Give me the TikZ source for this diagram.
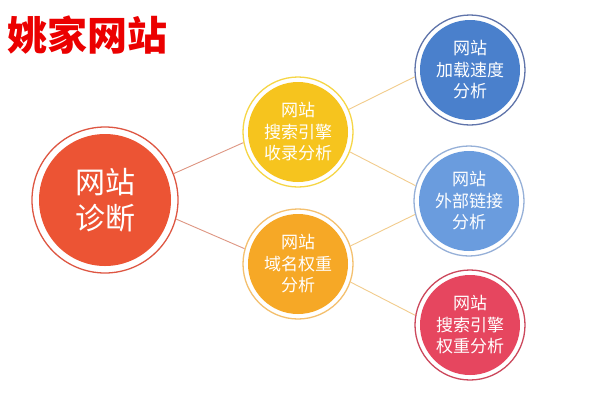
\documentclass[tikz,border=0pt]{standalone}
\usepackage{fontspec}
\newfontfamily\cjk{Noto Sans CJK SC}
\definecolor{bigfill}{RGB}{236,84,52}
\definecolor{bigline}{RGB}{222,86,66}
\definecolor{yelfill}{RGB}{246,196,30}
\definecolor{yelline}{RGB}{246,214,70}
\definecolor{orafill}{RGB}{246,168,38}
\definecolor{oraline}{RGB}{244,192,110}
\definecolor{blufill}{RGB}{74,128,204}
\definecolor{bluline}{RGB}{96,116,170}
\definecolor{lbfill}{RGB}{106,156,222}
\definecolor{lbline}{RGB}{150,176,216}
\definecolor{pkfill}{RGB}{230,70,95}
\definecolor{pkline}{RGB}{204,72,92}
\definecolor{linkA}{RGB}{222,150,130}
\definecolor{linkB}{RGB}{242,204,140}
\definecolor{titlered}{RGB}{235,0,0}
\tikzset{
  ball/.style n args={4}{circle, draw=#2, line width=1.3pt, fill=white,
    minimum size=#3, inner sep=0pt, text=white, align=center,
    path picture={\fill[#1] (path picture bounding box.center) circle (#4);}},
  smalltxt/.style={font=\cjk\fontsize{17}{21.5}\selectfont},
  bigtxt/.style={font=\cjk\fontsize{30}{36}\selectfont},
  linkl/.style={draw=linkA, line width=0.9pt},
  linkr/.style={draw=linkB, line width=0.9pt}
}
\begin{document}
\begin{tikzpicture}[x=1pt,y=-1pt]
\useasboundingbox (0,0) rectangle (600,400);
\fill[white] (0,0) rectangle (600,400);
\node[font=\cjk\bfseries\fontsize{40}{42}\selectfont, text=titlered, inner sep=0pt] (title) at (88,35) {姚家网站};
\node[ball={bigfill}{bigline}{146pt}{66pt}, bigtxt] (big) at (105,200) {网站\\诊断};
\node[ball={yelfill}{yelline}{110pt}{50pt}, smalltxt] (yel) at (298,132) {网站\\搜索引擎\\收录分析};
\node[ball={orafill}{oraline}{110pt}{50pt}, smalltxt] (ora) at (298,264) {网站\\域名权重\\分析};
\node[ball={blufill}{bluline}{110pt}{50pt}, smalltxt] (blu) at (470,70) {网站\\加载速度\\分析};
\node[ball={lbfill}{lbline}{110pt}{50pt}, smalltxt] (lb) at (469,201) {网站\\外部链接\\分析};
\node[ball={pkfill}{pkline}{110pt}{50pt}, smalltxt] (pk) at (470,325) {网站\\搜索引擎\\权重分析};
\draw[linkl] (big.21) -- (yel.191);
\draw[linkl] (big.-15) -- (ora.164);
\draw[linkr] (yel.24) -- (blu.187);
\draw[linkr] (yel.-21) -- (lb.164);
\draw[linkr] (ora.19) -- (lb.194);
\draw[linkr] (ora.-19) -- (pk.170);
\end{tikzpicture}
\end{document}
